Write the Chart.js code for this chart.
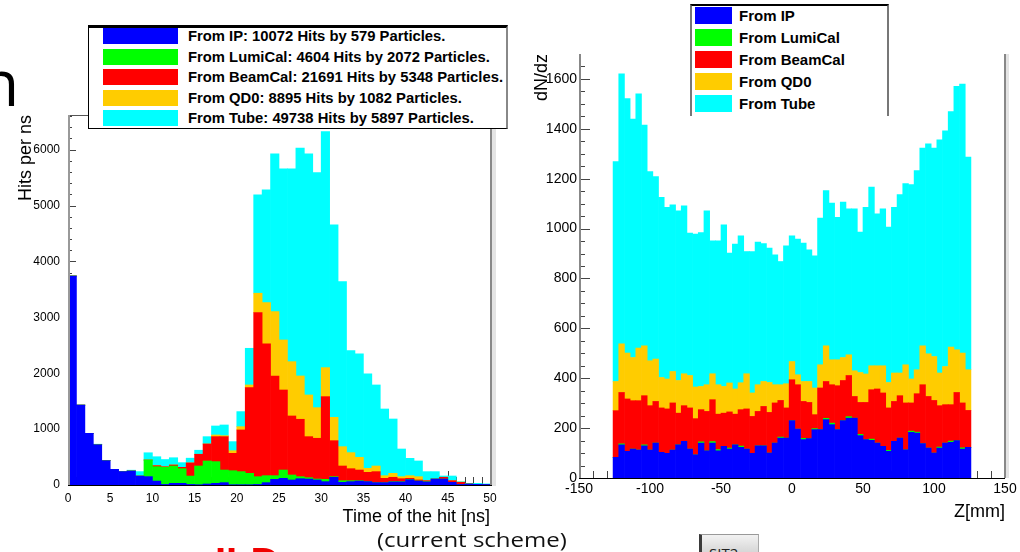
<!DOCTYPE html>
<html>
<head>
<meta charset="utf-8">
<title>Pair background hits</title>
<script src="https://cdn.jsdelivr.net/npm/chart.js@4.4.1/dist/chart.umd.min.js"></script>
<style>
  html, body { margin: 0; padding: 0; background: #fff; }
  body { position: relative; width: 1020px; height: 552px; overflow: hidden; font-family: 'Liberation Sans', Arial, sans-serif; }
  canvas { position: absolute; top: 0; }
  #timeChart { left: 0; }
  #zChart { left: 510px; }
  .legend { position: absolute; box-sizing: border-box; background: #fff; z-index: 2; }
  #timeLegend { left: 88px; top: 25px; width: 420px; height: 104px; border-top: 3px solid #000; border-left: 1px solid #000; border-bottom: 1px solid #000; border-right: 2px solid #888; }
  #zLegend { left: 690px; top: 4px; width: 199px; height: 112px; border-top: 2px solid #000; border-left: 2px solid #777; border-right: 2px solid #777; }
  .legend .swatch { position: absolute; }
  .legend .label { position: absolute; font-weight: bold; white-space: nowrap; color: #000; }
  #timeLegend .swatch { left: 14px; width: 75px; height: 16px; }
  #timeLegend .label { left: 99px; font-size: 14.8px; line-height: 16px; }
  #zLegend .swatch { left: 3px; width: 37px; height: 17px; }
  #zLegend .label { left: 47px; font-size: 15px; line-height: 17px; }
  .slide { position: absolute; white-space: nowrap; z-index: 1; }
  #slideTitle { left: -20px; top: 50px; font: 64px/64px 'Open Sans', sans-serif; color: #000; }
  #scheme { left: 377px; top: 530px; font: 20px/20px 'Open Sans', sans-serif; color: #111; transform: scaleX(1.2); transform-origin: left top; }
  #ild { left: 215px; top: 542px; font: bold 40px/40px 'Liberation Sans', Arial, sans-serif; color: #f00000; }
  #sit2 { left: 699px; top: 534px; width: 60px; height: 30px; box-sizing: border-box; background: linear-gradient(#f2f2f2, #c4c4c4); border-left: 3px solid #3a3a3a; border-top: 1px solid #999; border-right: 1px solid #aaa; font: 15px/15px 'Open Sans', sans-serif; padding: 11px 0 0 7px; color: #222; }
</style>
</head>
<body>
<div class="slide" id="slideTitle">n</div>
<canvas id="timeChart" width="510" height="552"></canvas>
<canvas id="zChart" width="510" height="552"></canvas>
<div class="legend" id="timeLegend"></div>
<div class="legend" id="zLegend"></div>
<div class="slide" id="scheme">(current scheme)</div>
<div class="slide" id="ild">ILD</div>
<div class="slide" id="sit2">SIT2</div>
<script>
// Sources of the hits (stacking order, bottom to top)
const sources = ['IP', 'LumiCal', 'BeamCal', 'QD0', 'Tube'];
const sourceColors = ['#0000ff', '#00ff00', '#ff0000', '#ffcc00', '#00ffff'];
const sourceHits = [10072, 4604, 21691, 8895, 49738];
const sourceParticles = [579, 2072, 5348, 1082, 5897];

// Left panel: time of the hit, 1 ns bins from 0 to 50 ns
const timeBinLow = 0;
const timeBinWidth = 1;
const timeIP = [3740, 1430, 925, 720, 435, 280, 240, 250, 160, 150,
                70, 10, 30, 30, 10, 5, 18, 30, 42, 5,
                5, 5, 10, 42, 101, 119, 90, 113, 107, 90,
                60, 138, 48, 60, 70, 60, 42, 42, 55, 55,
                95, 70, 55, 107, 107, 48, 10, 18, 12, 10];
const timeLumiCal = [0, 0, 0, 0, 0, 0, 0, 0, 0, 297,
                     258, 306, 310, 262, 150, 335, 412, 388, 226, 251,
                     234, 204, 139, 125, 66, 149, 89, 36, 24, 17,
                     41, 11, 29, 17, 7, 0, 0, 0, 5, 5,
                     6, 2, 5, 0, 0, 0, 0, 0, 0, 0];
const timeBeamCal = [0, 0, 0, 0, 0, 0, 0, 0, 0, 0,
                     18, 10, 18, 24, 235, 210, 304, 447, 597, 311,
                     746, 1533, 2936, 2357, 1784, 1432, 1056, 1027, 734, 729,
                     1480, 644, 263, 215, 191, 167, 197, 77, 78, 53,
                     18, 18, 17, 0, 31, 29, 38, 0, 0, 0];
const timeQD0 = [0, 0, 0, 0, 0, 0, 0, 0, 0, 0,
                 0, 0, 0, 0, 0, 0, 0, 30, 18, 47,
                 59, 48, 346, 740, 1152, 895, 972, 775, 746, 548,
                 519, 418, 346, 287, 227, 71, 101, 48, 71, 36,
                 48, 59, 0, 0, 0, 0, 5, 0, 0, 0];
const timeTube = [0, 0, 0, 10, 0, 0, 0, 15, 80, 130,
                  160, 130, 130, 84, 85, 72, 131, 161, 191, 162,
                  269, 656, 1760, 2016, 2822, 3061, 3449, 4076, 4314, 4206,
                  4224, 3443, 2954, 1826, 1850, 1689, 1450, 1193, 972, 495,
                  310, 281, 162, 132, 23, 84, 7, 12, 18, 10];
const timeTicks = [0, 5, 10, 15, 20, 25, 30, 35, 40, 45, 50];
const hitsTicks = [0, 1000, 2000, 3000, 4000, 5000, 6000];

// Right panel: z position of the hit, 4 mm bins from -126 to 126 mm
const zBinLow = -126;
const zBinWidth = 4;
const zIP = [83, 133, 107, 116, 112, 129, 112, 140, 103, 99,
             112, 133, 147, 116, 93, 140, 109, 140, 109, 127,
             116, 133, 123, 116, 99, 129, 129, 100, 140, 160,
             160, 230, 196, 154, 158, 194, 194, 234, 214, 194,
             230, 240, 240, 170, 154, 151, 140, 127, 107, 147,
             160, 113, 183, 180, 138, 120, 100, 120, 140, 143,
             150, 116, 123];
const zLumiCal = [0, 4, 0, 0, 0, 4, 0, 0, 0, 0,
                  0, 0, 0, 0, 0, 5, 0, 6, 5, 0,
                  4, 0, 5, 0, 0, 0, 0, 0, 0, 4,
                  0, 0, 0, 5, 0, 4, 0, 5, 6, 0,
                  0, 6, 0, 5, 0, 5, 0, 0, 4, 0,
                  0, 0, 5, 4, 0, 0, 0, 4, 0, 5,
                  0, 5, 0];
const zBeamCal = [187, 206, 210, 194, 198, 197, 178, 167, 178, 178,
                  189, 127, 143, 165, 145, 129, 158, 168, 142, 133,
                  145, 123, 146, 161, 148, 138, 158, 163, 161, 147,
                  121, 164, 178, 148, 145, 56, 167, 148, 154, 176,
                  161, 165, 87, 128, 149, 198, 217, 214, 170, 160,
                  170, 188, 113, 154, 236, 207, 211, 166, 154, 146,
                  193, 180, 148];
const zQD0 = [117, 195, 184, 173, 211, 200, 180, 170, 122, 120,
              126, 131, 128, 130, 127, 93, 107, 104, 118, 107,
              116, 101, 108, 141, 94, 107, 100, 120, 73, 63,
              97, 73, 40, 80, 84, 107, 93, 143, 100, 104,
              92, 83, 103, 120, 114, 96, 93, 109, 102, 114,
              91, 153, 96, 96, 156, 171, 176, 131, 153, 231,
              171, 200, 163];
const zTube = [882, 1082, 1020, 956, 1019, 885, 759, 732, 722, 688,
               668, 680, 673, 571, 613, 617, 697, 533, 577, 648,
               521, 581, 589, 490, 567, 572, 553, 539, 521, 494,
               553, 504, 544, 555, 528, 530, 588, 622, 628, 571,
               623, 585, 649, 563, 668, 716, 609, 629, 623, 664,
               715, 726, 779, 799, 793, 842, 836, 935, 945, 944,
               1056, 1078, 853];
const zTicks = [-150, -100, -50, 0, 50, 100, 150];
const dndzTicks = [0, 200, 400, 600, 800, 1000, 1200, 1400, 1600];

Chart.defaults.font.family = "'Liberation Sans', Arial, sans-serif";
Chart.defaults.color = '#000';

// Positions of the small ticks between the labelled ones
function range(from, to, step) {
    const out = [];
    for (let v = from; v <= to + 1e-9; v += step) out.push(v);
    return out;
}

function tickMarks(minor, major, minorLen, majorLen) {
    return minor.filter(v => major.indexOf(v) === -1).map(v => ({ value: v, len: minorLen }))
        .concat(major.map(v => ({ value: v, len: majorLen })));
}

function strokeLine(ctx, x1, y1, x2, y2, color, width) {
    ctx.strokeStyle = color;
    ctx.lineWidth = width;
    ctx.beginPath();
    ctx.moveTo(x1, y1);
    ctx.lineTo(x2, y2);
    ctx.stroke();
}

// ROOT-style axes: ticks inside the frame (under the bars), frame on top
function framePlugin(marks, drawFrame) {
    return {
        id: 'rootFrame',
        beforeDatasetsDraw(chart) {
            const { ctx, chartArea: a, scales } = chart;
            ctx.save();
            ctx.strokeStyle = '#444';
            ctx.lineWidth = 1;
            ctx.beginPath();
            marks.x.forEach(t => {
                const px = Math.round(scales.x.getPixelForValue(t.value)) + 0.5;
                ctx.moveTo(px, a.bottom);
                ctx.lineTo(px, a.bottom - t.len);
            });
            marks.y.forEach(t => {
                const py = Math.round(scales.y.getPixelForValue(t.value)) + 0.5;
                ctx.moveTo(a.left, py);
                ctx.lineTo(a.left + t.len, py);
            });
            ctx.stroke();
            ctx.restore();
        },
        afterDatasetsDraw(chart) {
            const { ctx, chartArea } = chart;
            ctx.save();
            drawFrame(ctx, chartArea);
            ctx.restore();
        }
    };
}

function drawTimeFrame(ctx, a) {
    ctx.fillStyle = '#e4e4e4';
    ctx.fillRect(a.right + 2, a.top, 4, a.bottom - a.top + 1);
    strokeLine(ctx, a.left, a.top + 0.5, a.right + 2, a.top + 0.5, '#555', 1);
    strokeLine(ctx, a.right + 1, a.top, a.right + 1, a.bottom, '#888', 2);
    strokeLine(ctx, a.left + 1, a.top, a.left + 1, a.bottom, '#999', 2);
    strokeLine(ctx, a.left, a.bottom + 0.5, a.right + 2, a.bottom + 0.5, '#000', 1);
}

function drawZFrame(ctx, a) {
    ctx.fillStyle = '#e4e4e4';
    ctx.fillRect(a.right + 1, a.top, 3, a.bottom - a.top);
    strokeLine(ctx, a.right, a.top, a.right, a.bottom, '#888', 2);
    strokeLine(ctx, a.left + 1, a.top, a.left + 1, a.bottom, '#888', 2);
    strokeLine(ctx, a.left, a.bottom + 0.5, a.right, a.bottom + 0.5, '#000', 1);
}

function stackedHistogram(canvasId, o) {
    const centers = o.counts[0].map((_, i) => o.binLow + (i + 0.5) * o.binWidth);
    const datasets = o.counts.map((values, k) => ({
        label: 'From ' + sources[k],
        data: values.map((v, i) => ({ x: centers[i], y: v })),
        backgroundColor: sourceColors[k],
        borderWidth: 0,
        barPercentage: 1,
        categoryPercentage: 1
    }));
    const marks = {
        x: tickMarks(o.xMinor, o.xTicks, o.xMinorLen, o.xMajorLen),
        y: tickMarks(o.yMinor, o.yTicks, o.yMinorLen, o.yMajorLen)
    };
    return new Chart(document.getElementById(canvasId), {
        type: 'bar',
        data: { datasets: datasets },
        options: {
            responsive: false,
            animation: false,
            devicePixelRatio: 1,
            layout: { padding: { top: o.padTop, right: o.padRight, bottom: 0, left: 0 } },
            plugins: { legend: { display: false }, tooltip: { enabled: false } },
            scales: {
                x: {
                    type: 'linear', min: o.xRange[0], max: o.xRange[1], offset: false, stacked: true,
                    grid: { display: false, drawTicks: false },
                    border: { display: false },
                    afterBuildTicks: s => { s.ticks = o.xTicks.map(v => ({ value: v })); },
                    afterFit: s => { s.height = o.xAxisHeight; },
                    ticks: { padding: o.xTickPad, maxRotation: 0, autoSkip: false, font: { size: o.tickFont }, color: '#000', callback: v => String(v) },
                    title: { display: true, text: o.xTitle, align: 'end', color: '#000', font: { size: 18 }, padding: { top: 0, bottom: o.xTitlePad } }
                },
                y: {
                    type: 'linear', min: 0, max: o.yMax, stacked: true,
                    grid: { display: false, drawTicks: false },
                    border: { display: false },
                    afterBuildTicks: s => { s.ticks = o.yTicks.map(v => ({ value: v })); },
                    afterFit: s => { s.width = o.yAxisWidth; },
                    ticks: { padding: o.yTickPad, autoSkip: false, font: { size: o.tickFont }, color: '#000', callback: v => String(v) },
                    title: { display: true, text: o.yTitle, align: 'end', color: '#000', font: { size: 18 }, padding: { top: o.yTitlePad, bottom: 0 } }
                }
            }
        },
        plugins: [framePlugin(marks, o.drawFrame)]
    });
}

function buildLegend(chart, boxId, rowOffset, rowStep, textFor) {
    const box = document.getElementById(boxId);
    chart.data.datasets.forEach((ds, i) => {
        const top = (rowOffset + i * rowStep) + 'px';
        const swatch = document.createElement('div');
        swatch.className = 'swatch';
        swatch.style.top = top;
        swatch.style.background = ds.backgroundColor;
        const label = document.createElement('div');
        label.className = 'label';
        label.style.top = top;
        label.textContent = textFor(ds, i);
        box.append(swatch, label);
    });
}

const timeChart = stackedHistogram('timeChart', {
    counts: [timeIP, timeLumiCal, timeBeamCal, timeQD0, timeTube],
    binLow: timeBinLow, binWidth: timeBinWidth,
    xRange: [0, 50], xTicks: timeTicks, xMinor: range(0, 50, 1), xMinorLen: 8, xMajorLen: 14,
    yMax: 6620, yTicks: hitsTicks, yMinor: range(0, 6600, 200), yMinorLen: 4, yMajorLen: 8,
    xTitle: 'Time of the hit [ns]', yTitle: 'Hits per ns',
    padTop: 115, padRight: 20, xAxisHeight: 67, yAxisWidth: 68,
    tickFont: 12, xTickPad: 6, yTickPad: 8, xTitlePad: 24, yTitlePad: 15,
    drawFrame: drawTimeFrame
});

const zChart = stackedHistogram('zChart', {
    counts: [zIP, zLumiCal, zBeamCal, zQD0, zTube],
    binLow: zBinLow, binWidth: zBinWidth,
    xRange: [-150, 150], xTicks: zTicks, xMinor: range(-150, 150, 10), xMinorLen: 7, xMajorLen: 12,
    yMax: 1700, yTicks: dndzTicks, yMinor: range(0, 1650, 50), yMinorLen: 6, yMajorLen: 11,
    xTitle: 'Z[mm]', yTitle: 'dN/dz',
    padTop: 54, padRight: 15, xAxisHeight: 74, yAxisWidth: 69,
    tickFont: 14, xTickPad: 3, yTickPad: 2, xTitlePad: 29, yTitlePad: 21,
    drawFrame: drawZFrame
});

buildLegend(timeChart, 'timeLegend', 0, 20.5, (ds, i) =>
    ds.label + ': ' + sourceHits[i] + ' Hits by ' + sourceParticles[i] + ' Particles.');
buildLegend(zChart, 'zLegend', 1, 21.9, ds => ds.label);
</script>
</body>
</html>
